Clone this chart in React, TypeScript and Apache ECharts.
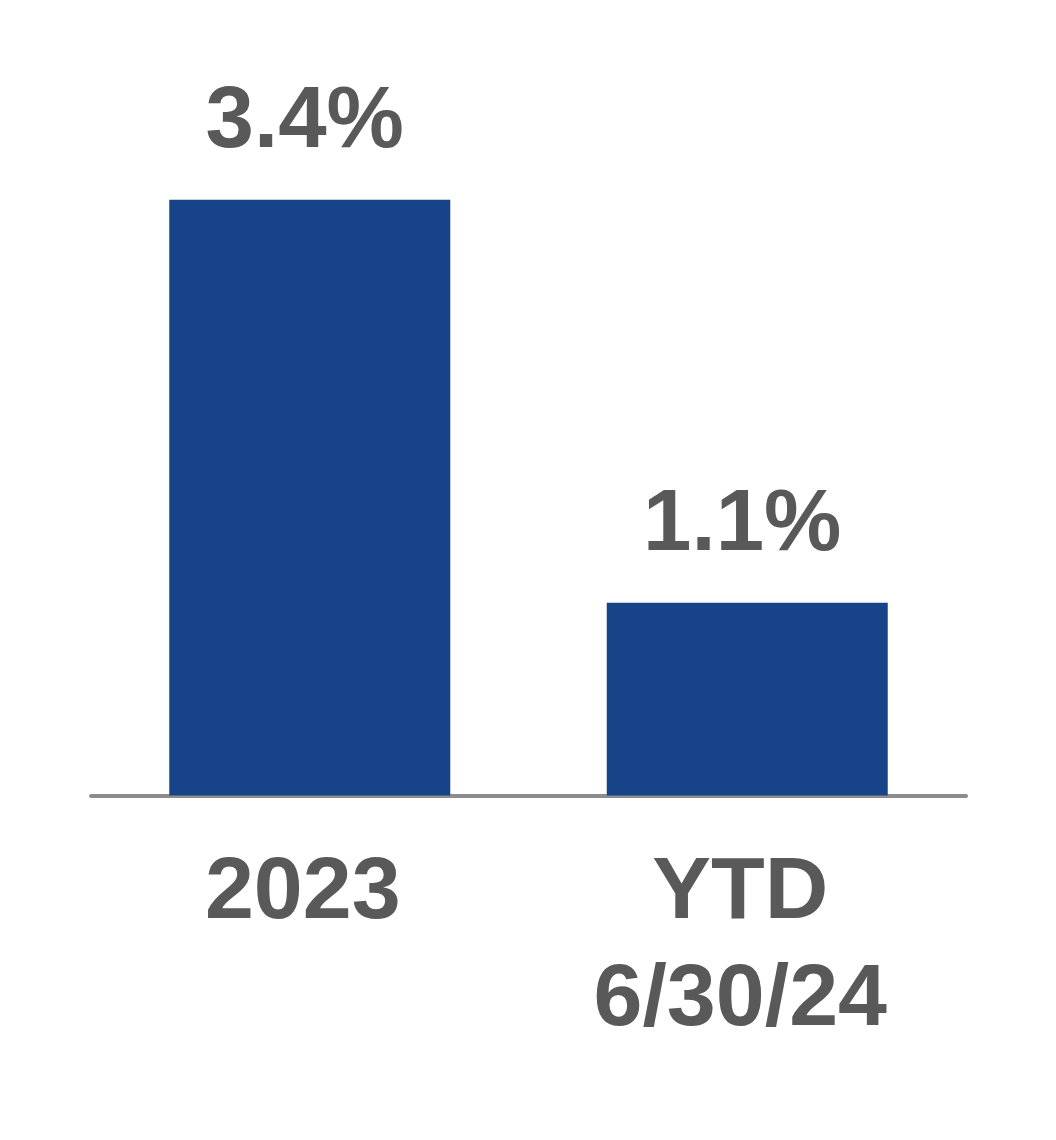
import React, { useEffect, useRef } from "react";
import * as echarts from "echarts";

const categories = ["2023", "YTD\n6/30/24"];
const values = [3.4, 1.1];
const valueLabels = ["3.4%", "1.1%"];

export default function App() {
  const ref = useRef<HTMLDivElement>(null);
  useEffect(() => {
    if (!ref.current) return;
    const chart = echarts.init(ref.current, null, { renderer: "svg" });
    chart.setOption({
      animation: false,
      backgroundColor: "#ffffff",
      grid: { left: 91, right: 90, top: 94.6, bottom: 344.5, containLabel: false },
      xAxis: {
        type: "category",
        data: categories,
        axisLine: { show: true, lineStyle: { color: "#8c8c8c", width: 4 } },
        axisTick: { show: false },
        axisLabel: {
          color: "#595959",
          fontFamily: "Liberation Sans, Arial, sans-serif",
          fontWeight: "bold",
          fontSize: 88,
          lineHeight: 107,
          margin: 38,
          padding: [0, 14, 0, 0],
        },
      },
      yAxis: {
        type: "value",
        min: 0,
        max: 4,
        show: false,
        splitLine: { show: false },
      },
      series: [
        {
          type: "bar",
          data: values,
          barWidth: 281,
          itemStyle: { color: "#174489" },
          label: {
            show: true,
            position: "top",
            distance: 40,
            offset: [-5, 0],
            color: "#595959",
            fontFamily: "Liberation Sans, Arial, sans-serif",
            fontWeight: "bold",
            fontSize: 87,
            formatter: (p: any) => valueLabels[p.dataIndex],
          },
        },
      ],
    });
    return () => chart.dispose();
  }, []);
  return (
    <div
      ref={ref}
      style={{ position: "fixed", left: 0, top: 0, width: 1056, height: 1140 }}
    />
  );
}
